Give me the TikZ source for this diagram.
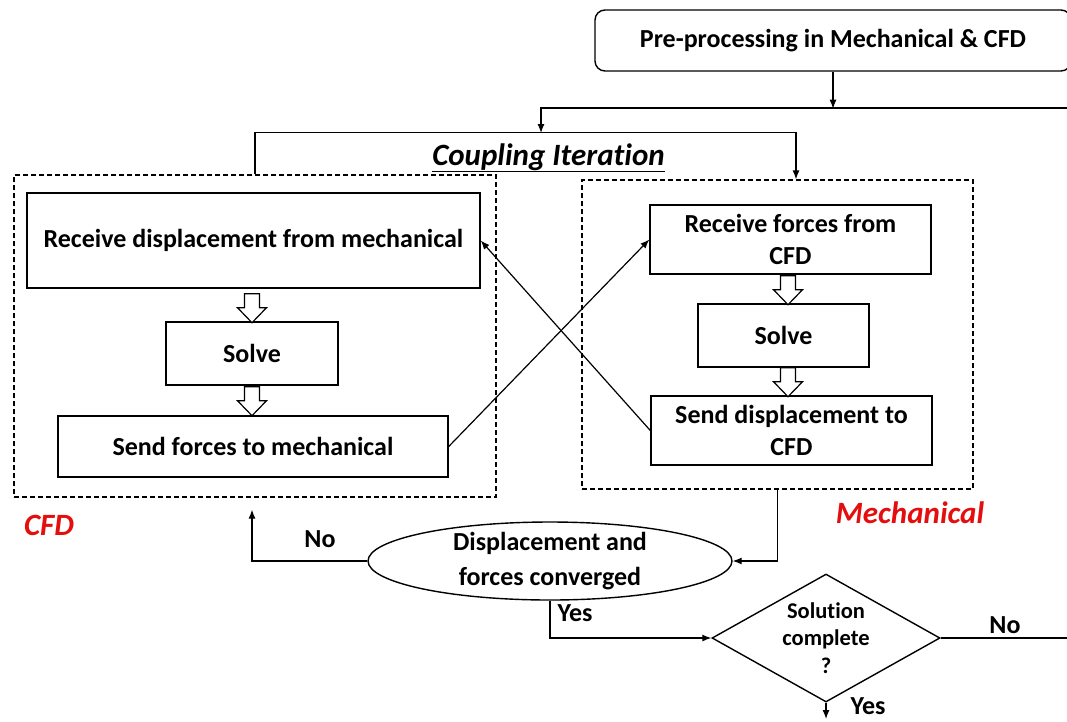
\documentclass[tikz,border=0pt]{standalone}
\usepackage{fontspec}
\setmainfont{Carlito}[Ligatures={NoCommon}]
\definecolor{labelred}{RGB}{228, 14, 14}
\usetikzlibrary{calc, shapes.geometric, arrows.meta}
\tikzset{
    procbox/.style={draw, line width=1.4pt, align=center, inner sep=0pt},
    zonebox/.style={draw, dash pattern=on 5pt off 3pt, line width=1.2pt,
        inner sep=0pt},
    flow/.style={line width=1.2pt, -{Latex[length=9pt, width=7pt]}},
    plain/.style={line width=1.2pt},
    bigitalic/.style={font=\bfseries\itshape\fontsize{31}{36}\selectfont},
    hollowdown/.pic={
        \draw[line width=1.2pt, fill=white] (-7.5, 0) -- (7.5, 0) -- (7.5, 14)
            -- (14.5, 14) -- (0, 29) -- (-14.5, 14) -- (-7.5, 14) -- cycle;
    },
}

\begin{document}
\begin{tikzpicture}[x=1pt, y=-1pt, font=\bfseries\fontsize{26}{32}\selectfont]
    \useasboundingbox (0, 0) rectangle (1067, 721);
    \node[procbox, rounded corners=10pt, minimum width=476, minimum height=61]
        (pre) at (833, 40.5) {Pre-processing in Mechanical \& CFD};
    \node[bigitalic, anchor=base] (coupling) at (548.5, 165)
        {\underline{Coupling Iteration}};
    \node[zonebox, minimum width=482, minimum height=322] (cfdzone)
        at (255, 336) {};
    \node[zonebox, minimum width=391, minimum height=309] (mechzone)
        at (777.5, 334.5) {};
    \node[procbox, minimum width=453, minimum height=95] (cfdrecv)
        at (253.5, 240.5) {Receive displacement from mechanical};
    \node[procbox, minimum width=172, minimum height=63] (cfdsolve)
        at (252, 353.5) {Solve};
    \node[procbox, minimum width=390, minimum height=61] (cfdsend)
        at (253, 446.5) {Send forces to mechanical};
    \node[procbox, minimum width=281, minimum height=69] (mechrecv)
        at (790.5, 239.5) {Receive forces from\\CFD};
    \node[procbox, minimum width=171, minimum height=63] (mechsolve)
        at (783.5, 335.5) {Solve};
    \node[procbox, minimum width=281, minimum height=69] (mechsend)
        at (791.5, 430.5) {Send displacement to\\CFD};
    \node[bigitalic, text=labelred] (cfdname) at (49, 525) {CFD};
    \node[bigitalic, text=labelred] (mechname) at (910, 513) {Mechanical};
    \node[draw, ellipse, line width=1.4pt, minimum width=364, minimum height=78,
        inner sep=0pt, label={[align=center,
        font=\bfseries\fontsize{26}{35}\selectfont]center:Displacement and\\forces converged}]
        (conv) at (550, 561) {};
    \node[draw, diamond, line width=1.4pt, minimum width=228, minimum height=128,
        inner sep=0pt, label={[align=center,
        font=\bfseries\fontsize{22.5}{27.5}\selectfont]center:Solution\\complete\\?}]
        (solved) at (826, 638) {};
    \node (convno) at (320, 539) {No};
    \node (convyes) at (575, 613) {Yes};
    \node (solvedno) at (1005, 625) {No};
    \node (solvedyes) at (868, 706) {Yes};
    \coordinate (loopin) at (1075, 108);
    \coordinate (split) at (541, 133);
    \coordinate (loopout) at (1075, 638);
    \coordinate (finish) at (826, 719);
    \draw[flow] (pre.south) -- ++(0, 37);
    \draw[flow] (loopin) -| (split);
    \draw[flow] (cfdzone.north) -- ++(0, -42) -| ([xshift=18.5pt]mechzone.north);
    \draw[flow] (cfdsend.east) -- (mechrecv.west);
    \draw[flow] (mechsend.west) -- (cfdrecv.east);
    \pic at ($(cfdrecv.south)+(-1.5, 5)$) {hollowdown};
    \pic at ($(cfdsolve.south)+(0, 1)$) {hollowdown};
    \pic at ($(mechrecv.south)+(-2.5, 1)$) {hollowdown};
    \pic at ($(mechsolve.south)+(4.5, 0)$) {hollowdown};
    \draw[flow] (mechzone.south) |- (conv.east);
    \draw[flow] (conv.west) -| ($(cfdzone.south)+(-3, 12)$);
    \draw[flow] (conv.south) |- (solved.west);
    \draw[plain] (solved.east) -- (loopout);
    \draw[flow] (solved.south) -- (finish);
\end{tikzpicture}
\end{document}
